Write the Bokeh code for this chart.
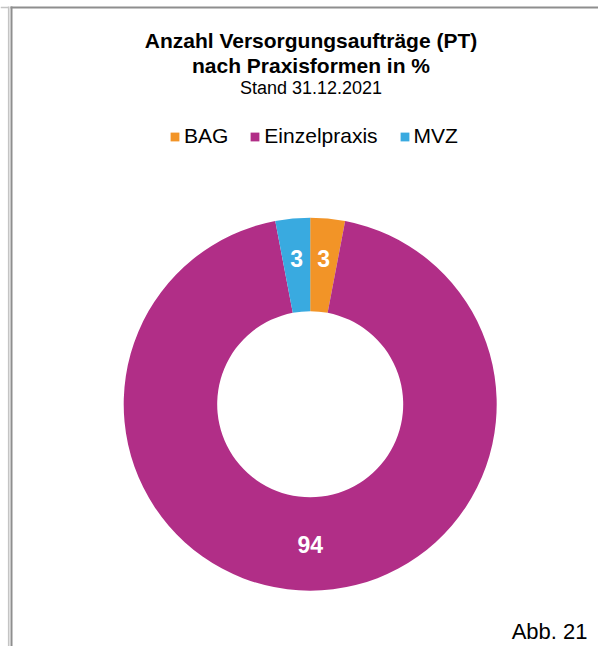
import math
from bokeh.plotting import figure
from bokeh.models import ColumnDataSource, Range1d, Legend, LegendItem
from bokeh.core.properties import value
from bokeh.embed import file_html
from bokeh.resources import INLINE

# ---- data ----
categories = ["BAG", "Einzelpraxis", "MVZ"]
values = [3, 94, 3]
labels = ["3", "94", "3"]
colors = ["#F29427", "#B12E87", "#39AAE0"]

title_line1 = "Anzahl Versorgungsaufträge (PT)"
title_line2 = "nach Praxisformen in %"
subtitle = "Stand 31.12.2021"
footnote = "Abb. 21"

# ---- layout (pixel-like data units, y upward) ----
W, H = 600, 646
FONT = "Liberation Sans"
cx, cy = 309.7, H - 403.7
r_out, r_in = 186.5, 93.0
r_lab = 143.0

total = float(sum(values))
starts, ends, lx, ly = [], [], [], []
cum = 0.0
for v in values:
    a0 = math.pi / 2 - 2 * math.pi * cum / total
    cum += v
    a1 = math.pi / 2 - 2 * math.pi * cum / total
    starts.append(a0)
    ends.append(a1)
    mid = (a0 + a1) / 2
    lx.append(cx + r_lab * math.cos(mid))
    ly.append(cy + r_lab * math.sin(mid) + 3)

src = ColumnDataSource(dict(cat=categories, val=values, lab=labels, color=colors,
                            start=starts, end=ends, lx=lx, ly=ly))

p = figure(width=W, height=H, output_backend="svg", toolbar_location=None,
           x_range=Range1d(0, W), y_range=Range1d(0, H), min_border=0,
           x_axis_location=None, y_axis_location=None, tools="")
p.grid.visible = False
p.outline_line_color = None
p.background_fill_color = "white"
p.border_fill_color = "white"

r = p.annular_wedge(x=cx, y=cy, inner_radius=r_in, outer_radius=r_out,
                    start_angle="start", end_angle="end", direction="clock",
                    fill_color="color", line_color=None, source=src)

p.text(x="lx", y="ly", text="lab", source=src, text_color="white",
       text_font=value(FONT), text_font_size="23px", text_font_style="bold",
       text_align="center", text_baseline="middle")

# titles (y = visual centre of capitals)
tx = 310.5
p.text(x=[tx], y=[H - 40.0], text=[title_line1], text_font=value(FONT),
       text_font_size="21px", text_font_style="bold", text_color="black",
       text_align="center", text_baseline="middle")
p.text(x=[tx], y=[H - 64.5], text=[title_line2], text_font=value(FONT),
       text_font_size="21px", text_font_style="bold", text_color="black",
       text_align="center", text_baseline="middle")
p.text(x=[tx], y=[H - 87.6], text=[subtitle], text_font=value(FONT),
       text_font_size="18px", text_color="black",
       text_align="center", text_baseline="middle")
p.text(x=[587], y=[H - 631.0], text=[footnote], text_font=value(FONT),
       text_font_size="22px", text_color="black",
       text_align="right", text_baseline="middle")

# frame lines (decoration)
p.segment(x0=[0, 8.2], y0=[H - 7, H - 6], x1=[8.2, 8.2], y1=[H - 7, 0],
          line_color="#c4c4c4", line_width=1.6)
p.segment(x0=[11, 10], y0=[H - 6, H - 7], x1=[11, W], y1=[0, H - 7],
          line_color="#8e8e8e", line_width=2)

legend = Legend(items=[LegendItem(label=dict(field="cat"), renderers=[r])],
                orientation="horizontal", location=(169, H - 148),
                glyph_width=11, glyph_height=11, label_standoff=4, spacing=21,
                padding=0, margin=0, border_line_color=None,
                background_fill_alpha=0,
                label_text_font=FONT, label_text_font_size="21px",
                label_text_color="black")
p.add_layout(legend, "center")

open("out.html", "w").write(file_html(p, INLINE))
